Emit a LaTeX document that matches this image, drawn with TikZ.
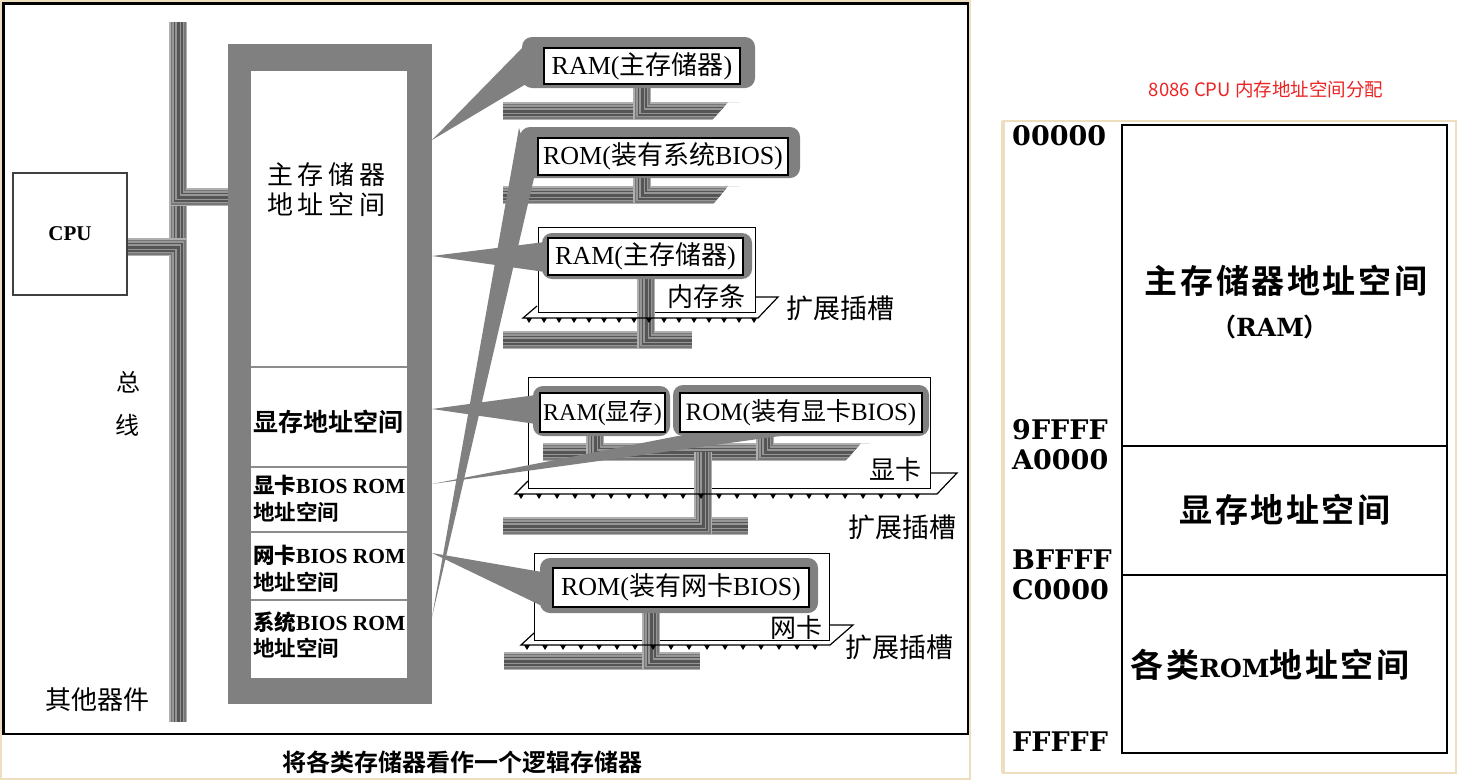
\documentclass[tikz,border=0pt]{standalone}
\usepackage{fontspec}
\setmainfont{Liberation Serif}
\newfontfamily\cjk{Noto Sans CJK SC}
\newfontfamily\cjkB{Noto Sans CJK SC Bold}
\newfontfamily\cjkBsp{Noto Sans CJK SC Bold}[LetterSpace=8]
\newfontfamily\cjksp{Noto Sans CJK SC}[LetterSpace=18]
\newfontfamily\addr{DejaVu Serif}
\newcommand\fs[1]{\fontsize{#1}{#1}\selectfont}
\definecolor{modgray}{RGB}{128,128,128}
\definecolor{busA}{RGB}{175,175,175}
\definecolor{busB}{RGB}{120,120,120}
\definecolor{busC}{RGB}{150,150,150}
\definecolor{busD}{RGB}{85,85,85}
\definecolor{beige}{RGB}{236,222,190}
\definecolor{divgray}{RGB}{140,140,140}
\definecolor{titlered}{RGB}{235,35,35}
\newcommand\bus[1]{%
  \draw[line width=18pt,busA] #1;
  \draw[line width=15pt,busB] #1;
  \draw[line width=12pt,busC] #1;
  \draw[line width=9pt,busD] #1;
  \draw[line width=6pt,busC] #1;
  \draw[line width=3pt,busD] #1;}
\newcommand\teeth[2]{\foreach \x in {#1} \fill (\x-3,#2) -- (\x+3,#2) -- (\x,#2+5) -- cycle;}
\tikzset{
  card/.style={draw=black, line width=1.3pt, fill=white, inner sep=0, anchor=north west},
  chip/.style={draw=black, line width=1.8pt, fill=white, inner sep=0},
  halo/.style={fill=modgray, rounded corners=10pt},
  wedge/.style={fill=modgray},
  slotline/.style={draw=black, line width=1.2pt, line join=miter},
  lbl/.style={inner sep=0},
  addrlbl/.style={inner sep=0, anchor=west, font=\addr\bfseries\fs{27}},
  tbl/.style={draw=black, line width=2pt, inner sep=0, anchor=north west}
}
\begin{document}
\begin{tikzpicture}[x=1pt,y=-1pt]
\useasboundingbox (0,0) rectangle (1462,782);
\fill[white] (0,0) rectangle (1462,782);
% ---------- left picture frame ----------
\draw[beige, line width=1.5pt] (0.75,0.75) rectangle (970,779);
\draw[black, line width=2.5pt] (3.5,3.5) rectangle (968,734);

% ---------- cards ----------
\node[card, minimum width=217, minimum height=85] (k1) at (538,227) {};
\node[card, minimum width=402, minimum height=111] (k2) at (528,377) {};
\node[card, minimum width=295, minimum height=87] (k3) at (534,553) {};

% ---------- buses ----------
\begin{scope}[line join=miter, line cap=butt]
  % system bus
  \bus{(178,22) -- (178,722)}
  \bus{(127,247) -| (178,722)}
  \bus{(178,22) |- (228,197)}
  % module 1
  \begin{scope}
    \clip (503,80) -- (740,80) -- (740,102) -- (728,102) -- (712,120) -- (503,120) -- cycle;
    \bus{(503,111) -- (740,111)}
    \bus{(642,80) |- (740,111)}
  \end{scope}
  % module 2
  \begin{scope}
    \clip (503,170) -- (740,170) -- (740,186) -- (728,186) -- (713,204) -- (503,204) -- cycle;
    \bus{(503,195) -- (740,195)}
    \bus{(642,172) |- (740,195)}
  \end{scope}
  % module 3 (memory stick)
  \bus{(503,340) -- (692,340)}
  \bus{(646,275) |- (692,340)}
  % graphics card internal bus
  \begin{scope}
    \clip (543,420) -- (870,420) -- (870,443) -- (861,443) -- (845,461) -- (543,461) -- cycle;
    \bus{(543,452) -- (870,452)}
    \bus{(595,430) |- (870,452)}
    \bus{(765,432) |- (870,452)}
  \end{scope}
  % graphics card to system bus
  \bus{(503,526) -- (748,526)}
  \bus{(703,452) |- (503,526)}
  % network card
  \bus{(504,661) -- (700,661)}
  \bus{(651,605) |- (700,661)}
\end{scope}

% ---------- slots ----------
\draw[slotline] (537,306) -- (523,318) -- (758,318) -- (778,297) -- (755,297);
\teeth{529,544,...,754}{318}
\draw[slotline] (528,481) -- (515,494) -- (937,494) -- (957,473) -- (930,473);
\teeth{521,539,...,930}{494}
\draw[slotline] (534,633) -- (521,645) -- (830,645) -- (853,625) -- (829,625);
\teeth{527,545,...,825}{645}

% ---------- logical memory block ----------
\fill[modgray] (228,44) rectangle (432,704);
\fill[white] (251,71) rectangle (407,678);
\foreach \yy in {367,467,532,600} \draw[divgray, line width=2pt] (251,\yy) -- (407,\yy);
\coordinate (mem) at (330,374);

% ---------- wedges ----------
\coordinate (t1) at (432,140);
\coordinate (t2) at (432,617);
\coordinate (t3) at (432,256);
\coordinate (t4) at (432,409);
\coordinate (t5) at (432,484);
\coordinate (t6) at (432,553);
\fill[wedge] (t1) -- (526,44) -- (526,84) -- cycle;
\fill[wedge] (t2) -- (519,128) -- (534,178) -- cycle;
\fill[wedge] (t3) -- (545,242) -- (545,272) -- cycle;
\fill[wedge] (t4) -- (536,395) -- (536,424) -- cycle;
\fill[wedge] (t5) -- (678,436) -- (780,436) -- cycle;
\fill[wedge] (t6) -- (542,572) -- (542,606) -- cycle;

% ---------- chips ----------
\fill[halo] (522,37) rectangle (755,88);
\fill[halo] (520,127) rectangle (800,178);
\fill[halo] (542,233) rectangle (752,279);
\fill[halo] (533,386) rectangle (670,436);
\fill[halo] (673,385) rectangle (929,436);
\fill[halo] (540,558) rectangle (818,613);
\node[chip, minimum width=196, minimum height=36, font=\fs{26}] (c1) at (642,66) {RAM({\cjk 主存储器})};
\node[chip, minimum width=250, minimum height=37, font=\fs{26}] (c2) at (663,156.5) {ROM({\cjk 装有系统}BIOS)};
\node[chip, minimum width=195, minimum height=37, font=\fs{26}] (c3) at (645.5,256.5) {RAM({\cjk 主存储器})};
\node[chip, minimum width=125, minimum height=39, font=\fs{24}] (c4) at (602.5,412.5) {RAM({\cjk 显存})};
\node[chip, minimum width=242, minimum height=39, font=\fs{25}] (c5) at (801,412.5) {ROM({\cjk 装有显卡}BIOS)};
\node[chip, minimum width=256, minimum height=39, font=\fs{26}] (c6) at (681,587.5) {ROM({\cjk 装有网卡}BIOS)};

% ---------- card labels ----------
\node[lbl, font=\cjk\fs{26}] (l1) at (706,297) {内存条};
\node[lbl, font=\cjk\fs{26}] (l2) at (895,470) {显卡};
\node[lbl, font=\cjk\fs{26}] (l3) at (796,628) {网卡};
\node[lbl, font=\cjk\fs{27}] (s1) at (840,308) {扩展插槽};
\node[lbl, font=\cjk\fs{27}] (s2) at (902,527) {扩展插槽};
\node[lbl, font=\cjk\fs{27}] (s3) at (899,647) {扩展插槽};

% ---------- memory labels ----------
\node[lbl, anchor=west, font=\cjksp\fs{26}] (m1) at (267,175) {主存储器};
\node[lbl, anchor=west, font=\cjksp\fs{26}] (m2) at (267,205) {地址空间};
\node[lbl, anchor=west, font=\cjkB\fs{25}] (m3) at (253,422) {显存地址空间};
\node[lbl, anchor=west, font=\bfseries\fs{21.5}] (m4) at (253,485) {{\cjkB 显卡}BIOS ROM};
\node[lbl, anchor=west, font=\cjkB\fs{21.5}] (m5) at (253,512) {地址空间};
\node[lbl, anchor=west, font=\bfseries\fs{21.5}] (m6) at (253,555) {{\cjkB 网卡}BIOS ROM};
\node[lbl, anchor=west, font=\cjkB\fs{21.5}] (m7) at (253,582) {地址空间};
\node[lbl, anchor=west, font=\bfseries\fs{21.5}] (m8) at (253,622) {{\cjkB 系统}BIOS ROM};
\node[lbl, anchor=west, font=\cjkB\fs{21.5}] (m9) at (253,648) {地址空间};

% ---------- CPU and bus labels ----------
\node[draw=black!75, line width=2.2pt, fill=white, minimum width=114, minimum height=122, inner sep=0, font=\bfseries\fs{21}] (cpu) at (70,234) {CPU};
\node[lbl, font=\cjk\fs{24}] (z1) at (128,382) {总};
\node[lbl, font=\cjk\fs{24}] (z2) at (127,425) {线};
\node[lbl, font=\cjk\fs{26}] (other) at (97,700) {其他器件};
\node[lbl, font=\cjkB\fs{24}] (cap) at (462,762) {将各类存储器看作一个逻辑存储器};

% ---------- right: address map ----------
\node[lbl, font=\cjk\fs{18.5}, text=titlered] (title) at (1266,89) {8086 CPU 内存地址空间分配};
\draw[beige, line width=1.2pt] (1003,121) rectangle (1456,773);
\draw[beige, line width=3.5pt] (1003,121) -- (1003,773);
\node[tbl, minimum width=325, minimum height=321] (r1) at (1121,124) {};
\node[tbl, minimum width=325, minimum height=129] (r2) at (1121,445) {};
\node[tbl, minimum width=325, minimum height=178] (r3) at (1121,574) {};
\node[lbl, font=\cjkBsp\fs{33}] (r1a) at (1286,281) {主存储器地址空间};
\node[lbl, font=\cjkB\fs{25}] (r1b) at (1270,327) {（{\addr\bfseries RAM}）};
\node[lbl, font=\cjkBsp\fs{33}] (r2a) at (1285,510) {显存地址空间};
\node[lbl, font=\cjkBsp\fs{33}] (r3a) at (1270,665) {各类{\addr\bfseries\fs{25}ROM}地址空间};
\node[addrlbl] (a1) at (1012,136) {00000};
\node[addrlbl] (a2) at (1012,430) {9FFFF};
\node[addrlbl] (a3) at (1012,460) {A0000};
\node[addrlbl] (a4) at (1012,560) {BFFFF};
\node[addrlbl] (a5) at (1012,590) {C0000};
\node[addrlbl] (a6) at (1012,742) {FFFFF};
\end{tikzpicture}
\end{document}
